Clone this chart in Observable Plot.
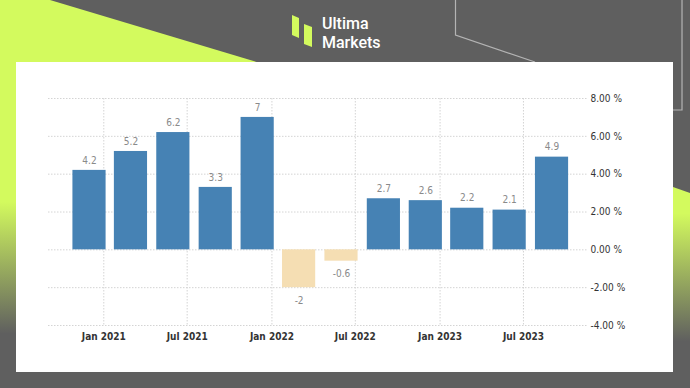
<!DOCTYPE html>
<html>
<head>
<meta charset="utf-8">
<script src="https://cdn.jsdelivr.net/npm/d3@7"></script>
<script src="https://cdn.jsdelivr.net/npm/@observablehq/plot@0.6"></script>
<style>
  html, body { margin: 0; padding: 0; }
  #stage { position: relative; width: 690px; height: 388px; background: #5f5f5f; overflow: hidden; }
  #bg { position: absolute; left: 0; top: 0; }
  #chart { position: absolute; left: 16px; top: 62px; width: 657px; height: 310px; background: #fff; }
</style>
</head>
<body>
<div id="stage">
  <svg id="bg" width="690" height="388" viewBox="0 0 690 388">
    <defs>
      <linearGradient id="gl" x1="0" y1="0" x2="0" y2="388" gradientUnits="userSpaceOnUse">
        <stop offset="0" stop-color="#d3fa5e"/>
        <stop offset="0.52" stop-color="#d3fa5e"/>
        <stop offset="0.86" stop-color="#5f5f5f"/>
        <stop offset="1" stop-color="#5f5f5f"/>
      </linearGradient>
      <linearGradient id="gr" x1="0" y1="0" x2="0" y2="388" gradientUnits="userSpaceOnUse">
        <stop offset="0" stop-color="#d3fa5e"/>
        <stop offset="0.55" stop-color="#d3fa5e"/>
        <stop offset="0.88" stop-color="#5f5f5f"/>
        <stop offset="1" stop-color="#5f5f5f"/>
      </linearGradient>
    </defs>
    <polygon points="0,0 50,0 300,75 300,388 0,388" fill="url(#gl)"/>
    <polygon points="673,187 690,193 690,388 673,388" fill="url(#gr)"/>
    <polyline points="455.5,0 455.5,35 535,62" fill="none" stroke="#b4b4b4" stroke-width="1.2"/>
    <polyline points="682,0 682,110 673,110" fill="none" stroke="#b4b4b4" stroke-width="1.2"/>
    <polygon points="292,15 299,18 299,38 292,35" fill="#d3fa5e"/>
    <polygon points="304,24 312,27 312,47 304,44" fill="#d3fa5e"/>
    <text x="322" y="29" fill="#ffffff" font-family="Roboto" font-weight="500" font-size="16">Ultima</text>
    <text x="322" y="48" fill="#ffffff" font-family="Roboto" font-weight="500" font-size="16">Markets</text>
  </svg>
  <div id="chart"></div>
</div>
<script>
// Quarterly values (bar positioned at the last month of each quarter)
const periods = ["2020-12-01","2021-03-01","2021-06-01","2021-09-01","2021-12-01","2022-03-01",
                 "2022-06-01","2022-09-01","2022-12-01","2023-03-01","2023-06-01","2023-09-01"];
const values = [4.2, 5.2, 6.2, 3.3, 7, -2, -0.6, 2.7, 2.6, 2.2, 2.1, 4.9];
const yTicks = [-4, -2, 0, 2, 4, 6, 8];
const xTicks = ["2021-01-01","2021-07-01","2022-01-01","2022-07-01","2023-01-01","2023-07-01"];
const xDomain = ["2020-09-03", "2023-11-17"];

const data = periods.map((p, i) => ({date: new Date(p), value: values[i]}));
const xTickDates = xTicks.map(s => new Date(s));
const pos = data.filter(d => d.value >= 0);
const neg = data.filter(d => d.value < 0);
const fmtMonth = d3.utcFormat("%b %Y");

const chart = Plot.plot({
  width: 657,
  height: 310,
  marginLeft: 32,
  marginRight: 86,
  marginTop: 36,
  marginBottom: 47,
  style: {background: "white", fontFamily: "'DejaVu Sans Condensed', 'DejaVu Sans', sans-serif", fontSize: "10px", overflow: "visible"},
  x: {type: "utc", domain: xDomain.map(s => new Date(s))},
  y: {domain: [-4, 8]},
  marks: [
    Plot.gridY(yTicks, {stroke: "#d4d4d4", strokeOpacity: 1, strokeDasharray: "1.5,1.5"}),
    Plot.gridX(xTickDates, {stroke: "#d4d4d4", strokeOpacity: 1, strokeDasharray: "1.5,1.5"}),
    Plot.rectY(data, {
      x1: d => d3.utcDay.offset(d.date, -36),
      x2: d => d3.utcDay.offset(d.date, 36),
      y1: 0,
      y2: "value",
      fill: d => d.value >= 0 ? "#4682b4" : "#f5deb3"
    }),
    Plot.text(pos, {x: "date", y: "value", text: d => String(d.value), dy: -10, fill: "#8a8a8a", fontSize: 10}),
    Plot.text(neg, {x: "date", y: "value", text: d => String(d.value), dy: 13, fill: "#8a8a8a", fontSize: 10}),
    Plot.axisY(yTicks, {anchor: "right", label: null, tickSize: 0, tickPadding: 3, tickFormat: d => d.toFixed(2) + " %", color: "#333", fontSize: 10}),
    Plot.axisX(xTickDates, {anchor: "bottom", label: null, tickSize: 0, tickPadding: 7, tickFormat: d => fmtMonth(d), color: "#333", fontWeight: "bold", fontSize: 10})
  ]
});
document.getElementById("chart").appendChild(chart);
</script>
</body>
</html>
